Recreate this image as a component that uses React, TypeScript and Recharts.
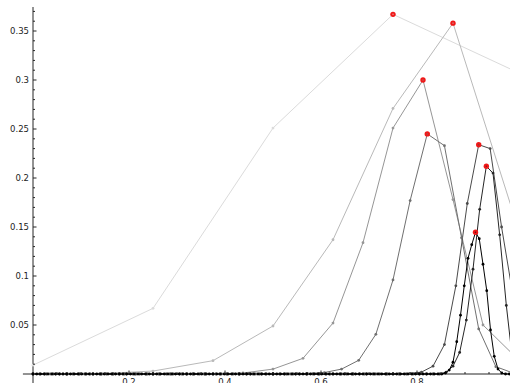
import React from "react";
import { LineChart, Line, XAxis, YAxis, ReferenceLine } from "recharts";

// points lying on the axis (read as zero)
const onAxis = (count: number) => new Array(count).fill(0);

// each series holds the values at x = k/n, k = 0..n
const seriesA = [0.009, 0.067, 0.251, 0.367, 0.31];
const seriesB = [0, 0, 0.003, 0.0136, 0.049, 0.137, 0.271, 0.358, 0.165];
const seriesC = [...onAxis(7), 0.001, 0.005, 0.016, 0.052, 0.134, 0.251, 0.3, 0.178, 0.05, 0.02];
const seriesD = [...onAxis(16), 0.0005, 0.0015, 0.005, 0.014, 0.0405, 0.096, 0.177, 0.245, 0.233, 0.139, 0.046, 0.0075, 0.001];
const seriesE = [...onAxis(33), 0.0005, 0.002, 0.008, 0.03, 0.09, 0.174, 0.234, 0.23, 0.15, 0.08];
const seriesF = [...onAxis(62), 0.002, 0.008, 0.022, 0.055, 0.107, 0.168, 0.212, 0.205, 0.142, 0.07, 0.01];
const seriesG = [
  ...onAxis(110),
  0.001, 0.004, 0.012, 0.033, 0.06, 0.09, 0.118, 0.132, 0.1446, 0.138,
  0.112, 0.085, 0.045, 0.018, 0.005, 0.001, 0, 0, 0,
];

const xTicks = [0.05, 0.1, 0.15, 0.2, 0.25, 0.3, 0.35, 0.4, 0.45, 0.5, 0.55, 0.6, 0.65, 0.7, 0.75, 0.8, 0.85, 0.9, 0.95];
const xLabels = [0.2, 0.4, 0.6, 0.8];
const yTicks = [
  0.01, 0.02, 0.03, 0.04, 0.05, 0.06, 0.07, 0.08, 0.09, 0.1, 0.11, 0.12, 0.13, 0.14, 0.15, 0.16, 0.17, 0.18, 0.19,
  0.2, 0.21, 0.22, 0.23, 0.24, 0.25, 0.26, 0.27, 0.28, 0.29, 0.3, 0.31, 0.32, 0.33, 0.34, 0.35, 0.36, 0.37,
];
const yLabels = [0.05, 0.1, 0.15, 0.2, 0.25, 0.3, 0.35];

const allSeries = [seriesA, seriesB, seriesC, seriesD, seriesE, seriesF, seriesG];
const colors = ["#dbdbdb", "#b9b9b9", "#969696", "#707070", "#4a4a4a", "#262626", "#000000"];
const axisColor = "#262626";
const textColor = "#222";
const font = "'DejaVu Sans', sans-serif";

const toPoints = (vals: number[]) => vals.map((y, k) => ({ x: k / (vals.length - 1), y }));
const isOneOf = (v: number, list: number[]) => list.some((l) => Math.abs(l - v) < 1e-9);

const renderXTick = (props: any) => {
  const { x, y, payload } = props;
  const major = isOneOf(payload.value, xLabels);
  return (
    <g>
      <line x1={x} x2={x} y1={y} y2={y - (major ? 3.5 : 2)} stroke={axisColor} strokeWidth={1} />
      {major && (
        <text x={x} y={y + 10.5} textAnchor="middle" fontSize={8.5} fontFamily={font} fill={textColor}>
          {payload.value}
        </text>
      )}
    </g>
  );
};

const renderYTick = (props: any) => {
  const { x, y, payload } = props;
  const major = isOneOf(payload.value, yLabels);
  return (
    <g>
      <line x1={x} x2={x + (major ? 3.5 : 2)} y1={y} y2={y} stroke={axisColor} strokeWidth={1} />
      {major && (
        <text x={x - 4} y={y + 3.1} textAnchor="end" fontSize={8.5} fontFamily={font} fill={textColor}>
          {payload.value}
        </text>
      )}
    </g>
  );
};

const makeDot = (color: string, peak: number) => (props: any) => {
  const { cx, cy, index } = props;
  if (cx == null || cy == null) return <g key={index} />;
  if (index === peak) {
    return (
      <g key={index}>
        <circle cx={cx} cy={cy} r={2.7} fill="#f01818" />
        <circle cx={cx} cy={cy} r={0.8} fill={color} opacity={0.6} />
      </g>
    );
  }
  return <circle key={index} cx={cx} cy={cy} r={1.4} fill={color} />;
};

export default function App() {
  return (
    <div style={{ position: "absolute", left: 0, top: 0, width: 510, height: 383, overflow: "hidden", background: "#fff" }}>
      <LineChart width={510} height={383} margin={{ top: 7, right: -3, bottom: 0, left: 0 }}>
        <XAxis
          type="number"
          dataKey="x"
          domain={[0, 1]}
          ticks={xTicks}
          interval={0}
          axisLine={false}
          tickLine={false}
          tickSize={0}
          tickMargin={0}
          height={9}
          tick={renderXTick}
        />
        <YAxis
          type="number"
          domain={[0, 0.3745]}
          ticks={yTicks}
          interval={0}
          width={33}
          axisLine={false}
          tickLine={false}
          tickSize={0}
          tickMargin={0}
          tick={renderYTick}
        />
        <ReferenceLine segment={[{ x: -0.021, y: 0 }, { x: 1, y: 0 }]} stroke={axisColor} strokeWidth={1} ifOverflow="visible" />
        <ReferenceLine segment={[{ x: 0, y: -0.0095 }, { x: 0, y: 0.3745 }]} stroke={axisColor} strokeWidth={1} ifOverflow="visible" />
        {allSeries.map((vals, i) => {
          const peak = vals.indexOf(Math.max(...vals));
          return (
            <Line
              key={i}
              data={toPoints(vals)}
              dataKey="y"
              type="linear"
              stroke={colors[i]}
              strokeWidth={1}
              dot={makeDot(colors[i], peak)}
              activeDot={false}
              isAnimationActive={false}
            />
          );
        })}
      </LineChart>
    </div>
  );
}
